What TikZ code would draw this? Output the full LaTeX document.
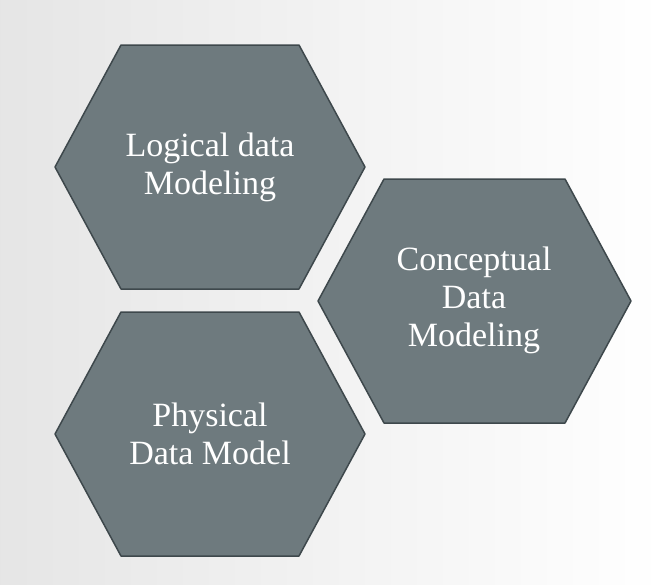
\documentclass[tikz,border=0pt]{standalone}
\usepackage{fontspec}
\setmainfont{Liberation Serif}
\definecolor{hexfill}{HTML}{6E7A7E}
\definecolor{hexedge}{HTML}{3E484C}
\begin{document}
\begin{tikzpicture}[x=1pt,y=-1pt,
  hex/.style={fill=hexfill,draw=hexedge,line width=1.5pt,line join=round},
  lbl/.style={text=white,font=\fontsize{34}{38}\selectfont,align=center}]
\shade[left color=black!10,right color=white] (0,0) rectangle (663,584);
\useasboundingbox (0,0) rectangle (663,584);
\draw[hex] (121,45)--(299,45)--(365,167)--(299,289)--(121,289)--(55,167)--cycle;
\draw[hex] (384,179)--(565,179)--(631,301)--(565,423)--(384,423)--(318,301)--cycle;
\draw[hex] (121,312)--(299,312)--(365,434)--(299,556)--(121,556)--(55,434)--cycle;
\node[lbl] (l) at (210,167) {Logical data\\Modeling};
\node[lbl] (c) at (474,300) {Conceptual\\Data\\Modeling};
\node[lbl] (p) at (210,434) {Physical\\Data Model};
\end{tikzpicture}
\end{document}
